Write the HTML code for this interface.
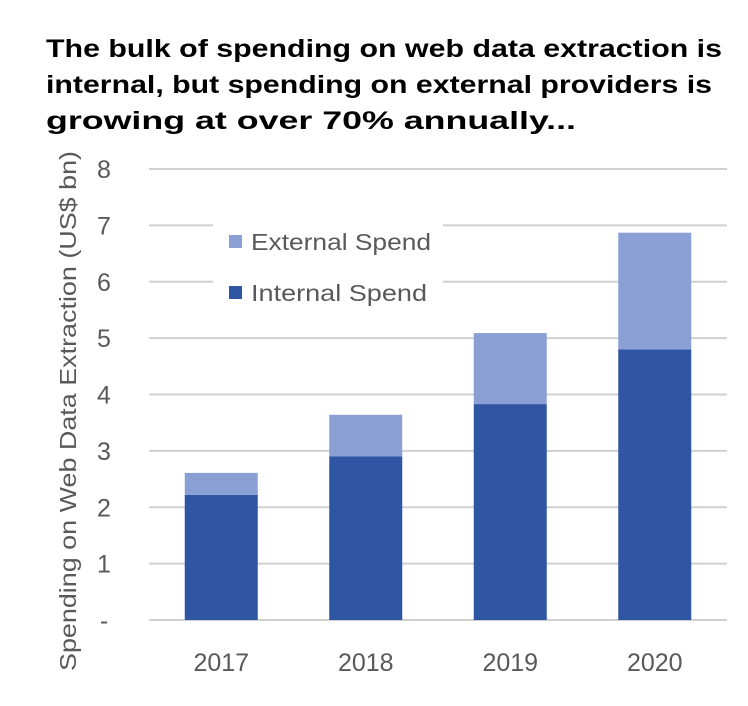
<!DOCTYPE html>
<html><head><meta charset="utf-8"><style>
body{margin:0;background:#fff;width:748px;height:706px;overflow:hidden;font-family:"Liberation Sans",sans-serif}
</style></head><body>
<svg id="chart" width="748" height="706" style="position:absolute;left:0;top:0">
<g font-family="Liberation Sans, sans-serif" font-weight="bold" font-size="25" fill="#000">
<text x="46" y="57" textLength="676" lengthAdjust="spacingAndGlyphs">The bulk of spending on web data extraction is</text>
<text x="46" y="93" textLength="666" lengthAdjust="spacingAndGlyphs">internal, but spending on external providers is</text>
<text x="46" y="129" textLength="530" lengthAdjust="spacingAndGlyphs">growing at over 70% annually...</text>
</g>
</svg>
<script>
const categories=["2017","2018","2019","2020"];
const internalSpend=[2.22,2.9,3.83,4.8];
const externalSpend=[0.39,0.74,1.26,2.07];
const yTicks=[0,1,2,3,4,5,6,7,8];
const yTickLabels=["-","1","2","3","4","5","6","7","8"];
const svg=document.getElementById('chart');
const NS='http://www.w3.org/2000/svg';
const x0=149,x1=727,y0=620,yTop=169,ymax=8;
const y=v=>y0-(v/ymax)*(y0-yTop);
const bw=(x1-x0)/categories.length;
const xc=i=>x0+bw*(i+0.5);
function mk(t,a){const e=document.createElementNS(NS,t);for(const k in a)e.setAttribute(k,a[k]);svg.appendChild(e);return e;}
yTicks.forEach((t,i)=>{
 const g=mk('line',{x1:x0,x2:x1,y1:y(t),y2:y(t),stroke:'#d0d0d0','stroke-width':2});
 
 
 const l=mk('text',{x:104,y:y(t)+9,'text-anchor':'middle','font-size':25,fill:'#595959','font-family':'Liberation Sans, sans-serif'});
 l.textContent=yTickLabels[i];
 
 
});
const lb=mk('rect',{x:213,y:215,width:230,height:100,fill:'#fff'});


categories.forEach((c,i)=>{
 const w=73,cx=xc(i);
 const bi=mk('rect',{x:cx-w/2,y:y(internalSpend[i]),width:w,height:y0-y(internalSpend[i]),fill:'#2F55A3'});
 
 
 const top=internalSpend[i]+externalSpend[i];
 const be=mk('rect',{x:cx-w/2,y:y(top),width:w,height:y(internalSpend[i])-y(top),fill:'#8A9FD3'});
 
 
 const t=mk('text',{x:cx,y:671,'text-anchor':'middle','font-size':25,fill:'#595959','font-family':'Liberation Sans, sans-serif'});
 t.textContent=c;
 
 
});
[['External Spend','#8A9FD3',242,180],['Internal Spend','#2F55A3',293,176]].forEach(([n,col,yy,len])=>{
 const s=mk('rect',{x:229,y:yy-7,width:13,height:13,fill:col});
 
 
 const t=mk('text',{x:251,y:yy+8,'font-size':23,fill:'#595959','font-family':'Liberation Sans, sans-serif',textLength:len,lengthAdjust:'spacingAndGlyphs'});
 t.textContent=n;
 
 
});
const yt=mk('text',{x:0,y:0,'text-anchor':'middle','font-size':23,fill:'#595959','font-family':'Liberation Sans, sans-serif',transform:'translate(76,411) rotate(-90)',textLength:520,lengthAdjust:'spacingAndGlyphs'});
yt.textContent='Spending on Web Data Extraction (US$ bn)';


</script>
</body></html>
